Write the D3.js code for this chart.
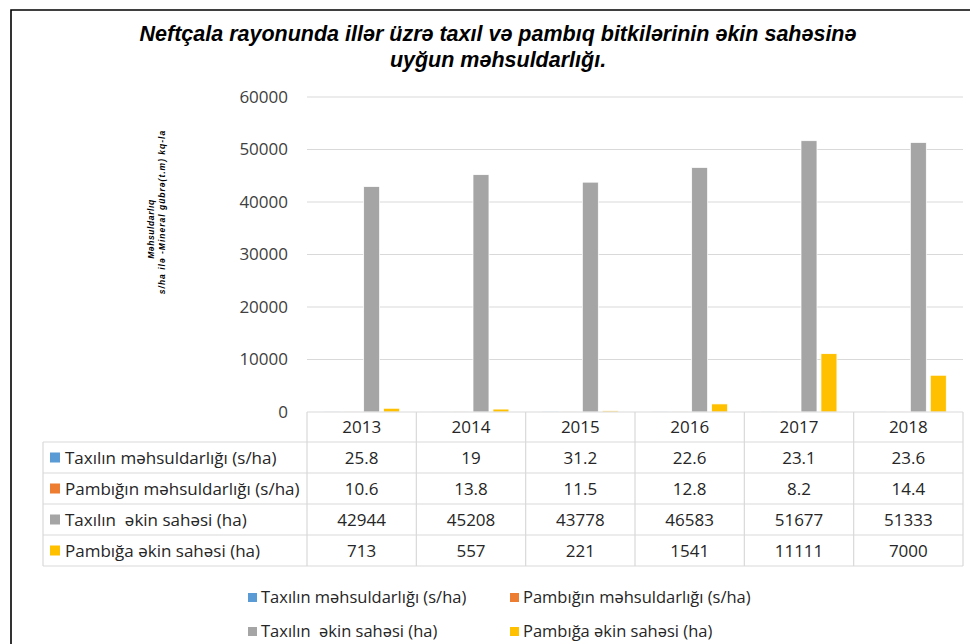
<!DOCTYPE html>
<html>
<head>
<meta charset="utf-8">
<script src="https://cdn.jsdelivr.net/npm/d3@7"></script>
<style>
html,body{margin:0;padding:0;background:#fff;}
svg{display:block;}
text{white-space:pre;}
</style>
</head>
<body>
<svg id="chart" width="970" height="644"></svg>
<script>
const years = ["2013","2014","2015","2016","2017","2018"];
const seriesNames = ["Taxılın məhsuldarlığı (s/ha)","Pambığın məhsuldarlığı (s/ha)","Taxılın  əkin sahəsi (ha)","Pambığa əkin sahəsi (ha)"];
const seriesColors = ["#5b9bd5","#ed7d31","#a5a5a5","#ffc000"];
const taxilMehsul = [25.8, 19, 31.2, 22.6, 23.1, 23.6];
const pambiqMehsul = [10.6, 13.8, 11.5, 12.8, 8.2, 14.4];
const taxilSahe = [42944, 45208, 43778, 46583, 51677, 51333];
const pambiqSahe = [713, 557, 221, 1541, 11111, 7000];
const yTicks = [0, 10000, 20000, 30000, 40000, 50000, 60000];
const titleLines = ["Neftçala rayonunda illər üzrə taxıl və pambıq bitkilərinin əkin sahəsinə","uyğun məhsuldarlığı."];
const yTitleLines = ["Məhsuldarlıq","s/ha ilə -Mineral gübrə(t.m) kq-la"];

const seriesValues = [taxilMehsul, pambiqMehsul, taxilSahe, pambiqSahe];

const svg = d3.select("#chart");
const font = "'Open Sans', Lato, sans-serif";
const fs = 17;

// frame
svg.append("path").attr("d","M11,644 L11,10 L975,10").attr("fill","none").attr("stroke","#000").attr("stroke-width",1.6);

// title
svg.append("g").selectAll("text").data(titleLines).join("text")
  .attr("x",498).attr("y",(d,i)=>41+i*26)
  .attr("text-anchor","middle")
  .attr("font-family","'Liberation Sans', Arial, sans-serif")
  .attr("font-weight","bold").attr("font-style","italic")
  .attr("font-size",21.5).attr("fill","#000").text(d=>d);

const plotL = 307, plotR = 963, plotT = 97, plotB = 412;
const x0 = d3.scaleBand().domain(years).range([plotL, plotR]).padding(0);
const bw = x0.bandwidth();
const x1 = d3.scaleBand().domain(d3.range(4)).range([bw*0.153, bw*0.847]).paddingInner(0.2);
const y = d3.scaleLinear().domain([0,60000]).range([plotB, plotT]);

// gridlines
svg.append("g").selectAll("line").data(yTicks.filter(d=>d>0)).join("line")
  .attr("x1",plotL).attr("x2",plotR)
  .attr("y1",d=>y(d)).attr("y2",d=>y(d))
  .attr("stroke","#d9d9d9").attr("stroke-width",1);

// y axis labels
const yAxis = d3.axisLeft(y).tickValues(yTicks).tickSize(0).tickPadding(19).tickFormat(d3.format("d"));
const ya = svg.append("g").attr("transform",`translate(${plotL},0)`).call(yAxis);
ya.select(".domain").remove();
ya.selectAll("text").attr("font-family",font).attr("font-size",fs).attr("fill","#404040");

// y title
const yt = svg.append("g");
yt.append("text").attr("transform","translate(154,229) rotate(-90)")
  .attr("text-anchor","middle").attr("font-family","'Liberation Sans', Arial, sans-serif")
  .attr("font-weight","bold").attr("font-style","italic").attr("font-size",8.5).attr("fill","#000")
  .attr("letter-spacing",0.6)
  .text(yTitleLines[0]);
yt.append("text").attr("transform","translate(165,212) rotate(-90)")
  .attr("text-anchor","middle").attr("font-family","'Liberation Sans', Arial, sans-serif")
  .attr("font-weight","bold").attr("font-style","italic").attr("font-size",8.5).attr("fill","#000")
  .attr("letter-spacing",1)
  .text(yTitleLines[1]);

// bars
const barData = [];
years.forEach((yr,i)=>{
  seriesValues.forEach((vals,s)=>{ barData.push({yr, s, v: vals[i]}); });
});
svg.append("g").selectAll("rect").data(barData).join("rect")
  .attr("x",d=>x0(d.yr)+x1(d.s))
  .attr("width",x1.bandwidth())
  .attr("y",d=>y(d.v))
  .attr("height",d=>plotB-y(d.v))
  .attr("fill",d=>seriesColors[d.s])
  .attr("stroke","#fff").attr("stroke-width",0.75);

// data table
const tableL = 43, rowH = 31, headerH = 30;
const grid = "#d9d9d9";
const tg = svg.append("g");
tg.append("line").attr("x1",plotL).attr("x2",plotR).attr("y1",plotB).attr("y2",plotB).attr("stroke",grid).attr("stroke-width",1.2);
const tableB = plotB + headerH + rowH*4;
for(let r=0;r<=4;r++){
  const yy = plotB+headerH+rowH*r;
  tg.append("line").attr("x1",tableL).attr("x2",plotR).attr("y1",yy).attr("y2",yy).attr("stroke",grid).attr("stroke-width",1.2);
}
tg.append("line").attr("x1",tableL).attr("x2",tableL).attr("y1",plotB+headerH).attr("y2",tableB).attr("stroke",grid).attr("stroke-width",1.2);
tg.selectAll(".vl").data(years.concat(["end"])).join("line")
  .attr("x1",d=>d==="end"?plotR:x0(d)).attr("x2",d=>d==="end"?plotR:x0(d))
  .attr("y1",plotB).attr("y2",tableB).attr("stroke",grid).attr("stroke-width",1.2);
tg.selectAll(".yr").data(years).join("text")
  .attr("x",d=>x0(d)+bw/2).attr("y",plotB+headerH/2+6)
  .attr("text-anchor","middle").attr("font-family",font).attr("font-size",fs).attr("fill","#262626")
  .text(d=>d);
seriesNames.forEach((name,s)=>{
  const cy = plotB+headerH+rowH*s+rowH/2;
  tg.append("rect").attr("x",50).attr("y",cy-5).attr("width",10).attr("height",10).attr("fill",seriesColors[s]);
  tg.append("text").attr("x",65).attr("y",cy+6).attr("font-family",font).attr("font-size",fs).attr("fill","#262626").text(name);
  tg.selectAll(".v"+s).data(seriesValues[s]).join("text")
    .attr("x",(d,i)=>x0(years[i])+bw/2).attr("y",cy+6)
    .attr("text-anchor","middle").attr("font-family",font).attr("font-size",fs).attr("fill","#262626")
    .text(d=>d);
});

// legend
const legPos = [[248,597],[510,597],[248,631],[510,631]];
const lg = svg.append("g");
seriesNames.forEach((name,s)=>{
  const [lx,ly] = legPos[s];
  lg.append("rect").attr("x",lx).attr("y",ly-4).attr("width",9).attr("height",9).attr("fill",seriesColors[s]);
  lg.append("text").attr("x",lx+13).attr("y",ly+6).attr("font-family",font).attr("font-size",16.5).attr("fill","#262626").text(name);
});
</script>
</body>
</html>
